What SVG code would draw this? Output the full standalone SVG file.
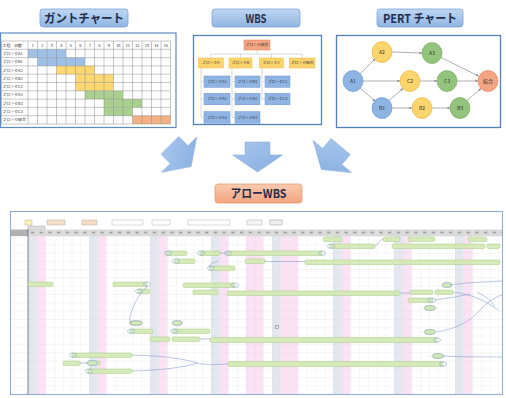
<svg xmlns="http://www.w3.org/2000/svg" width="506" height="398" viewBox="0 0 506 398">
<style>
.ttl{font-family:"Noto Sans CJK JP","Noto Sans",sans-serif;font-weight:bold;font-size:12px;fill:#1f2d4a;text-anchor:middle}
.sm{font-family:"Noto Sans CJK JP","Noto Sans",sans-serif;font-size:3.8px;fill:#333;text-anchor:middle}
.gl{font-family:"Noto Sans CJK JP","Noto Sans",sans-serif;font-size:3.9px;fill:#333}
.pl{font-family:"Noto Sans CJK JP","Noto Sans",sans-serif;font-size:5px;fill:#333;text-anchor:middle}
.panel{fill:#fff;stroke:#4f7fc0;stroke-width:1.3}
.tbox{fill:url(#gBlue);stroke:#7fa6d8;stroke-width:0.8}
.cb{fill:#9fc1e7}.cy{fill:#fdd76f}.cg{fill:#a9d08e}.co{fill:#f4b183}
.wy{fill:#fcd46e;stroke:#efb840;stroke-width:0.5}
.wb{fill:#8fb4e3;stroke:#6d96d0;stroke-width:0.5}
.wo{fill:#f4a582;stroke:#e0805a;stroke-width:0.5}
.pb{fill:#8db4e2;stroke:#5b8fcf;stroke-width:0.6}
.py{fill:#fbd46b;stroke:#e6b030;stroke-width:0.6}
.pg{fill:#93c47d;stroke:#6aa84f;stroke-width:0.6}
.po{fill:#f4a582;stroke:#e07850;stroke-width:0.6}
.pe{stroke:#8c8c8c;stroke-width:0.7;fill:none;marker-end:url(#ah)}
.bar{fill:#d5eab8;stroke:#a6cc84;stroke-width:0.5}
.el{fill:none;stroke:#8aa3d6;stroke-width:0.6}
.cv{fill:none;stroke:#8c9fcc;stroke-width:0.6}
.tb{stroke:#a0a0a0;stroke-width:0.4}
.sb{fill:#e3e7f0}.sp{fill:#fbe2f4}
</style>
<defs>
<linearGradient id="gBlue" x1="0" y1="0" x2="0" y2="1"><stop offset="0" stop-color="#c0d7f2"/><stop offset="1" stop-color="#8fb4e3"/></linearGradient>
<linearGradient id="gOr" x1="0" y1="0" x2="0" y2="1"><stop offset="0" stop-color="#f9cbb0"/><stop offset="1" stop-color="#f3a47e"/></linearGradient>
<linearGradient id="gArr" x1="0" y1="0" x2="1" y2="1"><stop offset="0" stop-color="#a9c8ee"/><stop offset="1" stop-color="#86acdf"/></linearGradient>
<marker id="ah" viewBox="0 0 6 6" refX="5.5" refY="3" markerWidth="4" markerHeight="4" orient="auto"><path d="M0,0 L6,3 L0,6 Z" fill="#8c8c8c"/></marker>
<path id="bigArrow" d="M-12.5,-15 H12.5 V-2 H25 L0,15 L-25,-2 H-12.5 Z"/>
<pattern id="grid" x="28" y="236" width="8.714" height="8.3" patternUnits="userSpaceOnUse"><path d="M0,0 V8.3 M0,0 H8.714" stroke="#d8d8d8" stroke-width="0.5" fill="none"/></pattern>
<pattern id="hgrid" x="0" y="236" width="20" height="8.3" patternUnits="userSpaceOnUse"><path d="M0,0 H20" stroke="#d8d8d8" stroke-width="0.5"/></pattern>
<pattern id="hdr" x="28" y="229" width="8.714" height="7" patternUnits="userSpaceOnUse"><path d="M0,0 V7" stroke="#f4f4f4" stroke-width="0.5"/><rect x="3" y="2.7" width="3" height="1.6" fill="#9a9a9a"/></pattern>
</defs>

<!-- Titles -->
<g id="title-gantt"><rect class="tbox" x="40" y="9" width="88" height="18" rx="3"/><text class="ttl" x="84" y="22.5" textLength="80" lengthAdjust="spacingAndGlyphs">ガントチャート</text></g>
<g id="title-wbs"><rect class="tbox" x="212" y="9" width="88" height="18" rx="3"/><text class="ttl" x="256" y="22.5" textLength="21" lengthAdjust="spacingAndGlyphs">WBS</text></g>
<g id="title-pert"><rect class="tbox" x="377" y="9" width="86" height="18" rx="3"/><text class="ttl" x="420" y="22.5" textLength="74" lengthAdjust="spacingAndGlyphs">PERT チャート</text></g>

<!-- Gantt chart -->
<g id="gantt">
<rect x="0.5" y="33" width="175.5" height="94.5" fill="#fff" stroke="#5b8ac8" stroke-width="1.2"/>
<rect class="cb" x="28" y="49.3" width="38" height="8.3"/>
<rect class="cb" x="37.5" y="57.6" width="47.5" height="8.3"/>
<rect class="cy" x="56.5" y="65.9" width="38" height="8.3"/>
<rect class="cy" x="75.5" y="74.2" width="38" height="8.3"/>
<rect class="cy" x="75.5" y="82.5" width="38" height="8.3"/>
<rect class="cg" x="85" y="90.8" width="38" height="8.3"/>
<rect class="cg" x="104" y="99.1" width="38" height="8.3"/>
<rect class="cg" x="104" y="107.4" width="28.5" height="8.3"/>
<rect class="co" x="132.5" y="115.7" width="38" height="8.3"/>
<path d="M1.5,41H170.5M1.5,49.3H170.5M1.5,57.6H170.5M1.5,65.9H170.5M1.5,74.2H170.5M1.5,82.5H170.5M1.5,90.8H170.5M1.5,99.1H170.5M1.5,107.4H170.5M1.5,115.7H170.5M1.5,124H170.5M1.5,41V124M28,41V124M37.5,41V124M47,41V124M56.5,41V124M66,41V124M75.5,41V124M85,41V124M94.5,41V124M104,41V124M113.5,41V124M123,41V124M132.5,41V124M142,41V124M151.5,41V124M161,41V124M170.5,41V124" stroke="#8f8f8f" stroke-width="0.5" fill="none"/>
<text class="gl" x="2.5" y="46.6">工程＼日数</text>
<text class="sm" y="46.6"><tspan x="32.75">1</tspan><tspan x="42.25">2</tspan><tspan x="51.75">3</tspan><tspan x="61.25">4</tspan><tspan x="70.75">5</tspan><tspan x="80.25">6</tspan><tspan x="89.75">7</tspan><tspan x="99.25">8</tspan><tspan x="108.75">9</tspan><tspan x="118.25">10</tspan><tspan x="127.75">11</tspan><tspan x="137.25">12</tspan><tspan x="146.75">13</tspan><tspan x="156.25">14</tspan><tspan x="165.75">15</tspan></text>
<text class="gl" x="2.5" y="54.9">ブロックA1</text>
<text class="gl" x="2.5" y="63.2">ブロックB1</text>
<text class="gl" x="2.5" y="71.5">ブロックA2</text>
<text class="gl" x="2.5" y="79.8">ブロックB2</text>
<text class="gl" x="2.5" y="88.1">ブロックC2</text>
<text class="gl" x="2.5" y="96.4">ブロックA3</text>
<text class="gl" x="2.5" y="104.7">ブロックB3</text>
<text class="gl" x="2.5" y="113">ブロックC3</text>
<text class="gl" x="2.5" y="121.3">ブロック結合</text>
</g>

<!-- WBS -->
<rect class="panel" x="193.5" y="35.5" width="128" height="89"/>
<g id="wbs-connectors" stroke="#c4c4c4" stroke-width="0.6" fill="none">
<path d="M257,50V54M210.8,54H302.2M210.8,54V58M240.5,54V58M271.3,54V58M302.2,54V58"/>
<path d="M201,68V117.5M201,81.5H204M201,99H204M201,117.5H204M232,68V117.5M232,81.5H235M232,99H235M232,117.5H235M262,68V99M262,81.5H265M262,99H265"/>
</g>
<g id="wbs-root"><rect class="wo" x="244" y="40" width="26" height="10"/><text class="sm" x="257" y="46.4">ブロック結合</text></g>
<g id="wbs-a"><rect class="wy" x="198.3" y="58" width="25" height="10"/><text class="sm" x="210.8" y="64.4">ブロックA</text></g>
<g id="wbs-b"><rect class="wy" x="229" y="58" width="23" height="10"/><text class="sm" x="240.5" y="64.4">ブロックB</text></g>
<g id="wbs-c"><rect class="wy" x="259.3" y="58" width="24" height="10"/><text class="sm" x="271.3" y="64.4">ブロックC</text></g>
<g id="wbs-join"><rect class="wy" x="289.3" y="58" width="25.7" height="10"/><text class="sm" x="302.2" y="64.4">ブロック結合</text></g>
<g id="wbs-a1"><rect class="wb" x="204" y="76" width="26" height="11.3"/><text class="sm" x="217" y="83">ブロックA1</text></g>
<g id="wbs-b1"><rect class="wb" x="235" y="76" width="25" height="11.3"/><text class="sm" x="247.5" y="83">ブロックB1</text></g>
<g id="wbs-c2"><rect class="wb" x="265" y="76" width="25" height="11.3"/><text class="sm" x="277.5" y="83">ブロックC2</text></g>
<g id="wbs-a2"><rect class="wb" x="204" y="93.3" width="26" height="11.5"/><text class="sm" x="217" y="100.4">ブロックA2</text></g>
<g id="wbs-b2"><rect class="wb" x="235" y="93.3" width="25" height="11.5"/><text class="sm" x="247.5" y="100.4">ブロックB2</text></g>
<g id="wbs-c3"><rect class="wb" x="265" y="93.3" width="25" height="11.5"/><text class="sm" x="277.5" y="100.4">ブロックC3</text></g>
<g id="wbs-a3"><rect class="wb" x="204" y="111.7" width="26" height="11.5"/><text class="sm" x="217" y="118.8">ブロックA3</text></g>
<g id="wbs-b3"><rect class="wb" x="235" y="111.7" width="25" height="11.5"/><text class="sm" x="247.5" y="118.8">ブロックB3</text></g>

<!-- PERT -->
<rect class="panel" x="336.5" y="35.5" width="164" height="92"/>
<g id="pert-edges">
<path class="pe" d="M360,74L375,59"/>
<path class="pe" d="M363,81H400"/>
<path class="pe" d="M360,88L375,101"/>
<path class="pe" d="M392,52L422,53"/>
<path class="pe" d="M441,57.5L478.5,76"/>
<path class="pe" d="M420,81H437"/>
<path class="pe" d="M457,81H478"/>
<path class="pe" d="M389,100.5L403,88.5"/>
<path class="pe" d="M392,108H412"/>
<path class="pe" d="M432,108H450"/>
<path class="pe" d="M467,100.5L481,88.5"/>
</g>
<g id="pert-a1"><ellipse class="pb" cx="353" cy="81" rx="10" ry="10.5"/><text class="pl" x="353" y="82.8">A1</text></g>
<g id="pert-a2"><ellipse class="py" cx="382" cy="52" rx="10" ry="10.5"/><text class="pl" x="382" y="53.8">A2</text></g>
<g id="pert-a3"><ellipse class="pg" cx="432" cy="53" rx="10" ry="10.5"/><text class="pl" x="432" y="54.8">A3</text></g>
<g id="pert-c2"><ellipse class="py" cx="410" cy="81" rx="10" ry="10.5"/><text class="pl" x="410" y="82.8">C2</text></g>
<g id="pert-c3"><ellipse class="pg" cx="447" cy="81" rx="10" ry="10.5"/><text class="pl" x="447" y="82.8">C3</text></g>
<g id="pert-join"><ellipse class="po" cx="488" cy="81" rx="10" ry="10.5"/><text class="pl" x="488" y="82.8">結合</text></g>
<g id="pert-b1"><ellipse class="pb" cx="382" cy="108" rx="10" ry="10.5"/><text class="pl" x="382" y="109.8">B1</text></g>
<g id="pert-b2"><ellipse class="py" cx="422" cy="108" rx="10" ry="10.5"/><text class="pl" x="422" y="109.8">B2</text></g>
<g id="pert-b3"><ellipse class="pg" cx="460" cy="108" rx="10" ry="10.5"/><text class="pl" x="460" y="109.8">B3</text></g>

<!-- Big arrows -->
<g id="big-arrows" fill="url(#gArr)" stroke="#8fb1de" stroke-width="0.6">
<use href="#bigArrow" transform="translate(180.5,156) rotate(-45)"/>
<use href="#bigArrow" transform="translate(257.5,157)"/>
<use href="#bigArrow" transform="translate(331,158) rotate(40)"/>
</g>
<g id="title-arrow"><rect x="215" y="184" width="87" height="19" rx="3" fill="url(#gOr)" stroke="#e59a72" stroke-width="0.8"/><text class="ttl" x="258.5" y="198" textLength="56" lengthAdjust="spacingAndGlyphs">アローWBS</text></g>

<!-- Arrow WBS screenshot -->
<g id="screenshot">
<rect x="10.5" y="211.5" width="492" height="183" fill="#fff" stroke="#8eaadb" stroke-width="1"/>
<g id="toolbar">
<rect x="25" y="220" width="7" height="5" fill="#fff2b0" class="tb"/>
<rect x="47" y="220" width="18" height="5" fill="#f8e0c8" class="tb"/>
<rect x="82" y="220" width="15" height="5" fill="#f5dcc0" class="tb"/>
<rect x="112" y="220" width="31" height="5" fill="#fff" class="tb"/>
<rect x="152" y="220" width="18" height="5" fill="#fff" class="tb"/>
<rect x="188" y="220" width="42" height="5" fill="#fff" class="tb"/>
<rect x="247" y="220" width="15" height="5" fill="#f4f4f4" class="tb"/>
<rect x="270" y="220" width="12" height="5" fill="#eee" stroke="#888" stroke-width="0.4"/>
<rect x="28" y="226" width="17" height="4" fill="#ddd" class="tb"/>
</g>
<rect x="28" y="229.5" width="474" height="6.5" fill="#d9d9d9"/>
<rect x="28" y="229.5" width="474" height="6.5" fill="url(#hdr)"/>
<rect x="11" y="229.5" width="17" height="6.5" fill="#b0b0b0"/>
<g id="stripes">
<rect class="sb" x="28" y="236" width="8.7" height="158"/><rect class="sp" x="36.7" y="236" width="8.7" height="158"/>
<rect class="sb" x="89" y="236" width="8.7" height="158"/><rect class="sp" x="97.7" y="236" width="8.7" height="158"/>
<rect class="sb" x="150" y="236" width="8.7" height="158"/><rect class="sp" x="158.7" y="236" width="8.7" height="158"/>
<rect class="sb" x="211" y="236" width="8.7" height="158"/><rect class="sp" x="219.7" y="236" width="8.7" height="158"/>
<rect class="sp" x="245.8" y="236" width="17.4" height="158"/>
<rect class="sb" x="272" y="236" width="8.7" height="158"/><rect class="sp" x="280.7" y="236" width="17.4" height="158"/>
<rect class="sb" x="333" y="236" width="8.7" height="158"/><rect class="sp" x="341.7" y="236" width="8.7" height="158"/>
<rect class="sb" x="394" y="236" width="8.7" height="158"/><rect class="sp" x="402.7" y="236" width="8.7" height="158"/>
<rect class="sb" x="455" y="236" width="8.7" height="158"/><rect class="sp" x="463.7" y="236" width="8.7" height="158"/>
</g>
<rect x="28" y="236" width="474" height="158" fill="url(#grid)"/>
<rect x="11" y="236" width="17" height="158" fill="url(#hgrid)"/>
<path d="M28,229V394" stroke="#666" stroke-width="0.8"/>
<g id="bars">
<rect class="bar" x="323" y="237" width="19" height="4.5" rx="1.5"/>
<rect class="bar" x="383" y="237" width="17" height="4.5" rx="1.5"/>
<rect class="bar" x="408" y="237" width="27" height="4.5" rx="1.5"/>
<rect class="bar" x="468" y="237" width="19" height="4.5" rx="1.5"/>
<rect class="bar" x="330" y="244" width="45" height="4.5" rx="1.5"/>
<rect class="bar" x="392" y="244" width="93" height="4.5" rx="1.5"/>
<rect class="bar" x="487" y="244" width="13" height="4.5" rx="1.5"/>
<rect class="bar" x="166" y="251" width="21" height="4.5" rx="1.5"/>
<rect class="bar" x="200" y="251" width="20" height="4.5" rx="1.5"/>
<rect class="bar" x="227" y="251" width="95" height="4.5" rx="1.5"/>
<rect class="bar" x="175" y="259" width="20" height="4.5" rx="1.5"/>
<rect class="bar" x="245" y="259" width="20" height="4.5" rx="1.5"/>
<rect class="bar" x="305" y="260" width="195" height="4.5" rx="1.5"/>
<rect class="bar" x="210" y="266" width="25" height="4.5" rx="1.5"/>
<rect class="bar" x="28" y="282" width="25" height="4.5" rx="1.5"/>
<rect class="bar" x="113" y="282" width="34" height="4.5" rx="1.5"/>
<rect class="bar" x="183" y="283" width="52" height="4.5" rx="1.5"/>
<rect class="bar" x="443" y="283" width="8" height="4" rx="1.5"/>
<rect class="bar" x="138" y="289" width="12" height="4.5" rx="1.5"/>
<rect class="bar" x="193" y="290" width="25" height="4.5" rx="1.5"/>
<rect class="bar" x="227" y="291" width="173" height="4.5" rx="1.5"/>
<rect class="bar" x="410" y="290" width="23" height="4.5" rx="1.5"/>
<rect class="bar" x="435" y="290" width="18" height="4.5" rx="1.5"/>
<rect class="bar" x="408" y="298" width="25" height="4.5" rx="1.5"/>
<rect class="bar" x="425" y="306" width="10" height="4" rx="1.5"/>
<rect class="bar" x="130" y="321" width="12" height="4" rx="1.5"/>
<rect class="bar" x="173" y="321" width="9" height="4" rx="1.5"/>
<rect class="bar" x="130" y="329" width="23" height="4.5" rx="1.5"/>
<rect class="bar" x="173" y="329" width="37" height="4.5" rx="1.5"/>
<rect class="bar" x="425" y="330" width="10" height="4" rx="1.5"/>
<rect class="bar" x="150" y="337" width="20" height="4.5" rx="1.5"/>
<rect class="bar" x="172" y="337" width="28" height="4.5" rx="1.5"/>
<rect class="bar" x="210" y="337.5" width="227" height="5" rx="1.5"/>
<rect class="bar" x="72" y="353" width="60" height="4.5" rx="1.5"/>
<rect class="bar" x="433" y="354" width="10" height="4" rx="1.5"/>
<rect class="bar" x="63" y="361" width="17" height="4.5" rx="1.5"/>
<rect class="bar" x="88" y="361" width="12" height="4" rx="1.5"/>
<rect class="bar" x="228" y="361.5" width="215" height="5" rx="1.5"/>
<rect class="bar" x="88" y="369" width="44" height="4.5" rx="1.5"/>
</g>
<g id="bar-ends">
<ellipse class="el" cx="168" cy="253.2" rx="3.5" ry="2.2"/>
<ellipse class="el" cx="201" cy="253.2" rx="3.5" ry="2.2"/>
<ellipse class="el" cx="228" cy="253.2" rx="3.5" ry="2.2"/>
<ellipse class="el" cx="322" cy="253.2" rx="3.5" ry="2.2"/>
<ellipse class="el" cx="176" cy="261.2" rx="3.5" ry="2.2"/>
<ellipse class="el" cx="211" cy="268.2" rx="3.5" ry="2.2"/>
<ellipse class="el" cx="331" cy="246.2" rx="3.5" ry="2.2"/>
<ellipse class="el" cx="147" cy="284.2" rx="3.5" ry="2.2"/>
<ellipse class="el" cx="235" cy="285.2" rx="3.5" ry="2.2"/>
<ellipse class="el" cx="139" cy="291.2" rx="3.5" ry="2.2"/>
<ellipse class="el" cx="447" cy="285" rx="5" ry="2.5"/>
<ellipse class="el" cx="432" cy="300.2" rx="4" ry="2.2"/>
<ellipse class="el" cx="430" cy="308" rx="6" ry="2.5"/>
<ellipse class="el" cx="136" cy="323" rx="6" ry="2.5"/>
<ellipse class="el" cx="177" cy="323" rx="5" ry="2.5"/>
<ellipse class="el" cx="131" cy="331.2" rx="3.5" ry="2.2"/>
<ellipse class="el" cx="174" cy="331.2" rx="3.5" ry="2.2"/>
<ellipse class="el" cx="430" cy="332" rx="6" ry="2.5"/>
<ellipse class="el" cx="437" cy="340" rx="3.5" ry="2.3"/>
<ellipse class="el" cx="73" cy="355.2" rx="3.5" ry="2.2"/>
<ellipse class="el" cx="438" cy="356" rx="6" ry="2.5"/>
<ellipse class="el" cx="92" cy="363" rx="5" ry="2.5"/>
<ellipse class="el" cx="443" cy="364" rx="3.5" ry="2.3"/>
<ellipse class="el" cx="89" cy="371.2" rx="3.5" ry="2.2"/>
</g>
<g id="links">
<path class="cv" d="M147,287C140,293 136,300 133,308C129,316 129,321 132,323"/>
<path class="cv" d="M132,355C165,356 185,359 197,363C210,366 220,364 228,364"/>
<path class="cv" d="M132,371C165,370 185,367 197,363"/>
<path class="cv" d="M80,363H88"/>
<path class="cv" d="M437,332C455,329 470,322 480,310C490,300 497,296 503,295"/>
<path class="cv" d="M435,300C450,298 460,296 470,294"/>
<path class="cv" d="M443,356C465,357 485,357 502,357"/>
<path class="cv" d="M450,285C462,283 480,282 502,281"/>
<path class="cv" d="M453,292C470,294 485,300 498,310"/>
<path class="cv" d="M477,292C485,296 490,300 495,306"/>
<path class="cv" d="M218,261C212,263 208,265 210,268"/>
<path class="cv" d="M220,253H227"/>
<path class="cv" d="M375,246C379,243 380,240 383,239"/>
<path class="cv" d="M265,261.5H305" stroke="#c8c8c8"/>
<path class="cv" d="M400,293H410"/>
<path class="cv" d="M200,339H210"/>
</g>
<rect x="275.5" y="325.5" width="3" height="3" fill="none" stroke="#777" stroke-width="0.5"/>
</g>
</svg>
